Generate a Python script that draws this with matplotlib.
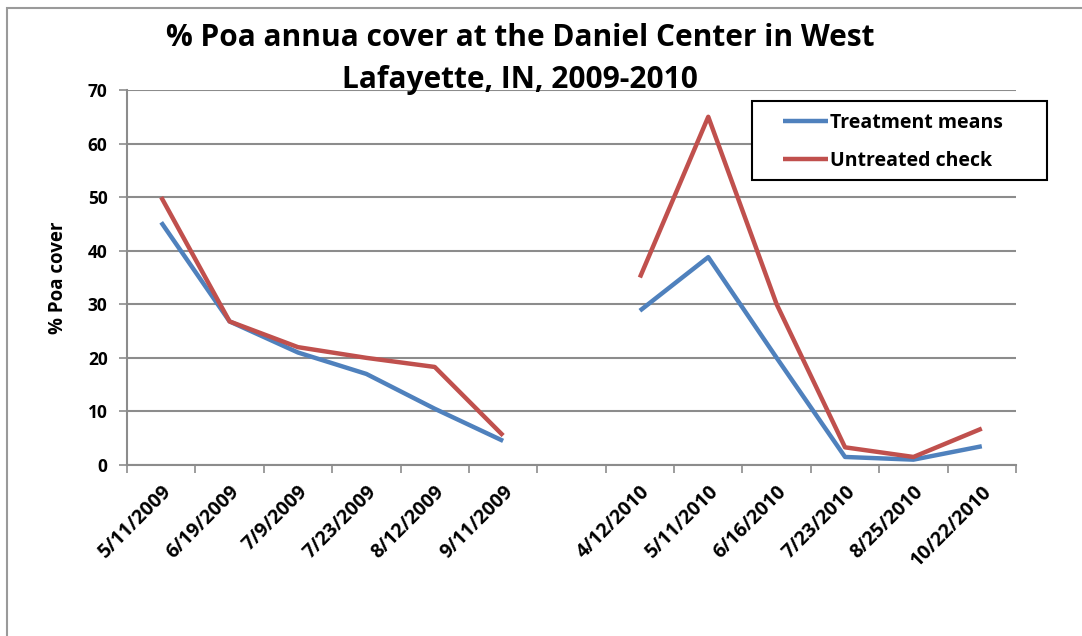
import numpy as np
import matplotlib
matplotlib.use("Agg")
from matplotlib import pyplot as plt
from matplotlib.patches import Rectangle

# Sampling dates (blank slot separates the two seasons)
dates = ['5/11/2009', '6/19/2009', '7/9/2009', '7/23/2009', '8/12/2009', '9/11/2009', '',
         '4/12/2010', '5/11/2010', '6/16/2010', '7/23/2010', '8/25/2010', '10/22/2010']

# % Poa annua cover
treatment_means = [45.3, 26.8, 21.0, 17.0, 10.5, 4.5, np.nan,
                   28.8, 38.8, 20.0, 1.5, 1.0, 3.5]
untreated_check = [50.0, 26.8, 22.0, 20.0, 18.3, 5.5, np.nan,
                   35.0, 65.0, 30.0, 3.3, 1.5, 6.8]

y_ticks = [0, 10, 20, 30, 40, 50, 60, 70]

plt.rcParams['font.family'] = ['Open Sans', 'DejaVu Sans']

W, H = 1082, 636
fig = plt.figure(figsize=(W / 100, H / 100), dpi=100)
ax = fig.add_axes([127 / W, 1 - 465 / H, 889 / W, 375 / H])

# outer chart border (only top and left edges are visible in the crop)
fig.patches.append(Rectangle((7 / W, -0.1), 1.2, (H - 8) / H + 0.1,
                             transform=fig.transFigure, fill=False,
                             edgecolor='#9a9a9a', linewidth=1.5))

x = np.arange(len(dates))
ax.plot(x, treatment_means, color='#4F81BD', linewidth=3.2,
        solid_capstyle='butt', label='Treatment means', zorder=3)
ax.plot(x, untreated_check, color='#C0504D', linewidth=3.2,
        solid_capstyle='butt', label='Untreated check', zorder=3)

ax.set_xlim(-0.5, len(dates) - 0.5)
ax.set_ylim(0, 70)

# y axis
ax.set_yticks(y_ticks)
ax.set_yticklabels([str(v) for v in y_ticks], fontsize=12.5, fontweight='bold')
ax.yaxis.grid(True, color='#8c8c8c', linewidth=1.5)
ax.set_axisbelow(True)
ax.tick_params(axis='y', length=6, width=1.2, color='#8c8c8c', pad=8)
ax.set_ylabel('% Poa cover', fontsize=13.5, fontweight='bold', labelpad=14)

# x axis: labels at category centres, tick marks at boundaries
ax.set_xticks(x)
ax.set_xticklabels(dates, rotation=45, ha='right', rotation_mode='anchor',
                   fontsize=14, fontweight='bold')
ax.tick_params(axis='x', length=0, pad=12)
ax.set_xticks(np.arange(len(dates) + 1) - 0.5, minor=True)
ax.tick_params(axis='x', which='minor', length=6, width=1.2, color='#8c8c8c')

for side in ['top', 'right']:
    ax.spines[side].set_visible(False)
for side in ['left', 'bottom']:
    ax.spines[side].set_color('#8c8c8c')
    ax.spines[side].set_linewidth(1.5)

# title
fig.text(520 / W, 1 - 38 / H, '% Poa annua cover at the Daniel Center in West',
         ha='center', va='center', fontsize=21.5, fontweight='bold')
fig.text(520 / W, 1 - 80 / H, 'Lafayette, IN, 2009-2010',
         ha='center', va='center', fontsize=21.5, fontweight='bold')

# legend: frame drawn separately so its size matches the original box
fig.patches.append(Rectangle((752 / W, 1 - 180 / H), 295 / W, 79 / H,
                             transform=fig.transFigure, facecolor='white',
                             edgecolor='black', linewidth=1.5, zorder=4))
leg = fig.legend(loc='upper left', bbox_to_anchor=(783 / W, 1 - 113 / H),
                 prop={'weight': 'bold', 'size': 14}, frameon=False,
                 handlelength=2.3, handletextpad=0.1, labelspacing=0.9,
                 borderpad=0, borderaxespad=0)
leg.set_zorder(5)

fig.savefig('out.png', dpi=100)
